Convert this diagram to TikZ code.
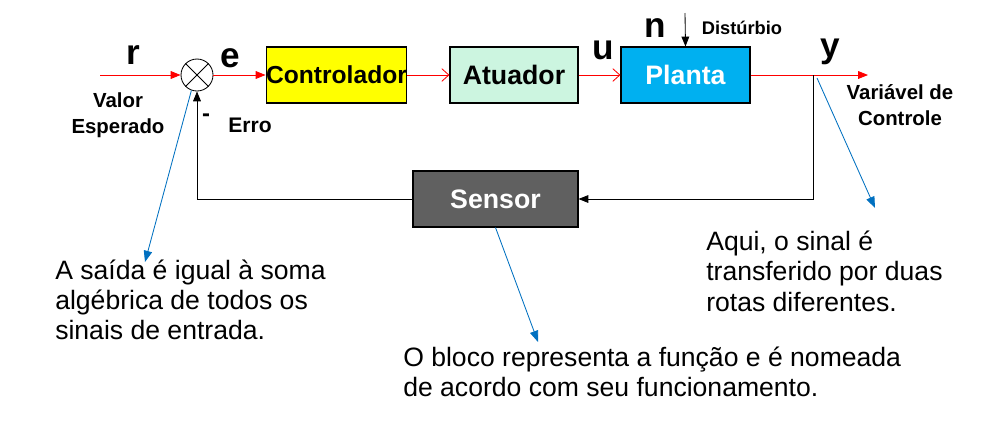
\documentclass[tikz,border=0pt]{standalone}
\usepackage{fontspec}
\setmainfont{Liberation Sans}
\usetikzlibrary{arrows.meta}
\definecolor{amarelo}{RGB}{255,255,0}
\definecolor{menta}{RGB}{204,245,224}
\definecolor{ciano}{RGB}{0,176,240}
\definecolor{cinza}{RGB}{96,96,96}
\definecolor{azulnota}{RGB}{0,112,192}

\begin{document}
\begin{tikzpicture}[
        bloco/.style={draw=black, line width=0.8pt, minimum height=1.4cm, inner sep=0pt,
          font=\fontsize{19}{22}\selectfont\bfseries},
        sinal/.style={red, line width=0.6pt},
        cheia/.style={-{Triangle[length=7pt, width=5.5pt]}},
        aberta/.style={-{Straight Barb[length=5pt, width=9pt]}},
        volta/.style={black, line width=0.6pt},
        nota/.style={azulnota, line width=0.6pt, -{Triangle[length=8pt, width=6pt]}},
        letra/.style={font=\fontsize{25}{30}\selectfont\bfseries},
        rotulo/.style={font=\fontsize{14.5}{18.5}\selectfont\bfseries, align=center},
        texto/.style={font=\fontsize{18.9}{21.5}\selectfont, align=left, anchor=west, inner sep=0pt}
      ]
        \useasboundingbox (0,0) rectangle (24.775,-10.525);
        % blocos
        \node (soma) at (4.925,-1.875) [circle, draw, line width=0.6pt, minimum size=0.8cm, inner sep=0pt] {};
        \draw [line width=0.6pt] (soma.45) -- (soma.225) (soma.135) -- (soma.315);
        \node (ctrl) at (8.4125,-1.875) [bloco, fill=amarelo, minimum width=3.425cm,
          font=\fontsize{17.5}{21}\selectfont\bfseries] {Controlador};
        \node (atuador) at (12.85,-1.875) [bloco, fill=menta, minimum width=3.2cm] {Atuador};
        \node (planta) at (17.1375,-1.875) [bloco, fill=ciano, text=white, minimum width=3.225cm] {Planta};
        \node (sensor) at (12.3875,-4.975) [bloco, fill=cinza, text=white, minimum width=4.125cm] {Sensor};
        \coordinate (entrada) at (2.5,-1.875);
        \coordinate (ramo) at (20.325,-1.875);
        \coordinate (saida) at (21.7,-1.875);
        \coordinate (dist) at (17.125,-0.325);
        % sinais
        \draw [sinal, cheia] (entrada) -- (soma);
        \draw [sinal, cheia] (soma) -- (ctrl);
        \draw [sinal, aberta] (ctrl) -- (atuador);
        \draw [sinal, aberta] (atuador) -- (planta);
        \draw [sinal, cheia] (planta) -- (saida);
        \draw [volta, cheia] (dist) -- (planta.north);
        \draw [volta, cheia] (ramo) |- (sensor);
        \draw [volta, cheia] (sensor) -| (soma);
        % rotulos
        \node at (3.325,-1.375) [letra] {r};
        \node at (2.95,-2.875) [rotulo] {Valor\\Esperado};
        \node at (5.75,-1.45) [letra] {e};
        \node at (15.075,-1.25) [letra] {u};
        \node at (16.375,-0.7) [letra] {n};
        \node at (18.55,-0.7) [font=\fontsize{13}{16}\selectfont\bfseries] {Distúrbio};
        \node at (20.75,-1.3) [letra] {y};
        \node at (22.5,-2.625) [rotulo] {Variável de\\Controle};
        \node at (5.15,-2.95) [rotulo, font=\fontsize{17}{20}\selectfont\bfseries] {-};
        \node at (6.25,-3.125) [rotulo, font=\fontsize{15}{18}\selectfont\bfseries] {Erro};
        % notas
        \node (nota1) at (1.375,-7.5) [texto] {A saída é igual à soma\\algébrica de todos os\\sinais de entrada.};
        \node (nota2) at (17.65,-6.78) [texto] {Aqui, o sinal é\\transferido por duas\\rotas diferentes.};
        \node (nota3) at (10.075,-9.3) [texto] {O bloco representa a função e é nomeada\\de acordo com seu funcionamento.};
        \coordinate (p1) at (3.625,-6.55);
        \coordinate (p2) at (13.45,-8.55);
        \coordinate (p3) at (21.875,-5.2);
        \coordinate (q3) at (20.425,-1.95);
        \draw [nota] (soma.250) -- (p1);
        \draw [nota] (sensor.south) -- (p2);
        \draw [nota] (q3) -- (p3);
      \end{tikzpicture}
\end{document}
